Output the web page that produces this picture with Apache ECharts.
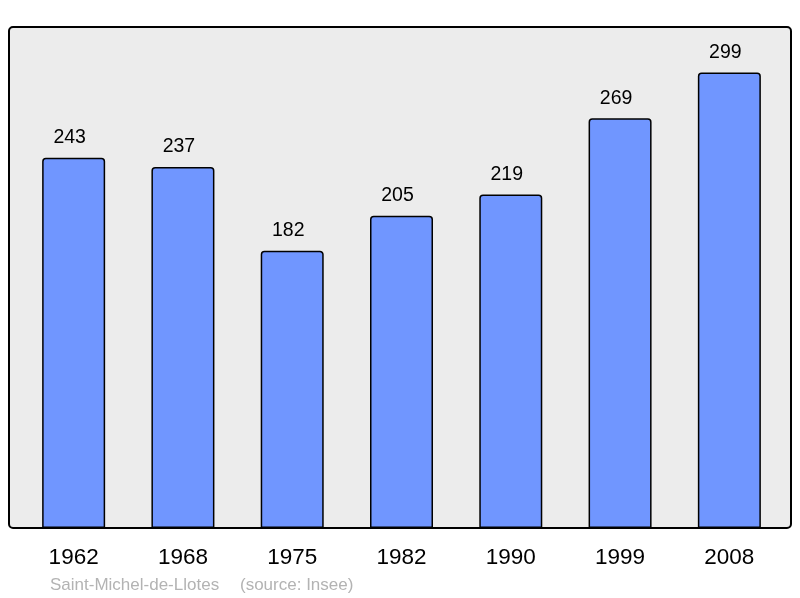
<!DOCTYPE html>
<html><head><meta charset="utf-8">
<script src="https://cdn.jsdelivr.net/npm/echarts@6/dist/echarts.min.js"></script>
<style>html,body{margin:0;padding:0;background:#fff}#c{width:800px;height:598px}</style>
</head><body><div id="c"></div>
<script>
var years = ['1962','1968','1975','1982','1990','1999','2008'];
var population = [243,237,182,205,219,269,299];
var placeName = 'Saint-Michel-de-Llotes';
var sourceText = '(source: Insee)';

var chart = echarts.init(document.getElementById('c'), null, {renderer:'canvas'});
var F = '"Liberation Sans", Arial, sans-serif';
chart.setOption({
  animation:false,
  backgroundColor:'#ffffff',
  grid:{left:19, right:16, top:27, bottom:70},
  xAxis:{type:'category', data:years, boundaryGap:true,
    axisLine:{show:false}, axisTick:{show:false},
    axisLabel:{color:'#000', fontFamily:F, fontSize:22.5, margin:18}},
  yAxis:{type:'value', min:0, max:Math.max.apply(null,population)*1.1, show:false, splitLine:{show:false}},
  graphic:[
    {type:'rect', z:-10, shape:{x:9,y:27,width:782,height:501,r:4}, style:{fill:'#ececec', stroke:null}},
    {type:'rect', z:100, shape:{x:9,y:27,width:782,height:501,r:4}, style:{fill:null, stroke:'#000', lineWidth:2}},
    {type:'text', left:50, top:577, style:{text:placeName, fill:'#b3b3b3', font:'17px '+F}},
    {type:'text', left:240, top:577, style:{text:sourceText, fill:'#b3b3b3', font:'17px '+F}}
  ],
  series:[{type:'bar', data:population, barWidth:63,
    itemStyle:{color:'#7096ff', borderColor:'#000', borderWidth:1.5, borderRadius:[3,3,0,0]},
    label:{show:true, position:'top', distance:10, offset:[-4,0], color:'#000', fontFamily:F, fontSize:19.5}}]
});
</script></body></html>
